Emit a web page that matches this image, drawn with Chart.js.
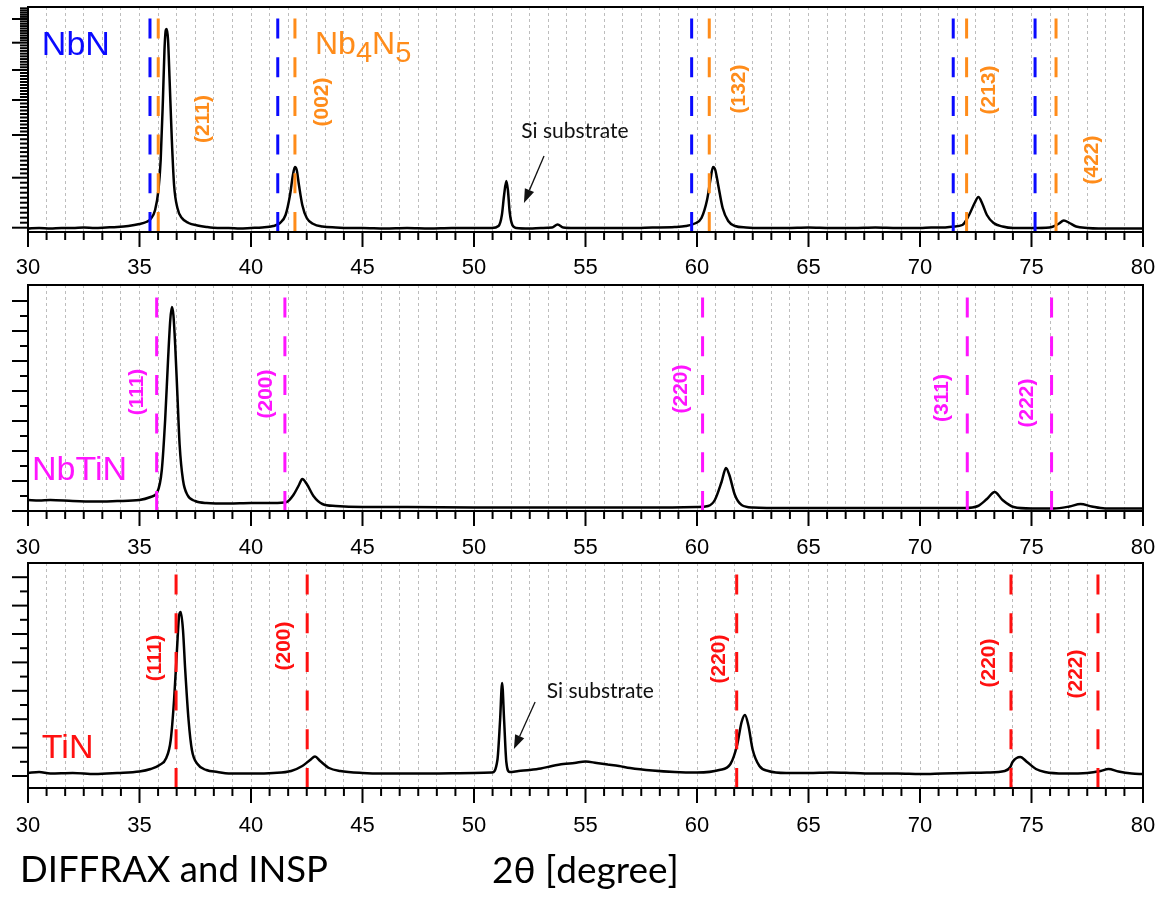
<!DOCTYPE html>
<html>
<head>
<meta charset="utf-8">
<script src="https://cdn.jsdelivr.net/npm/chart.js@4.4.1/dist/chart.umd.min.js"></script>
<style>
html,body{margin:0;padding:0;background:#fff;}
body{width:1158px;height:901px;position:relative;overflow:hidden;}
.pc{position:absolute;left:0;width:1158px;height:300px;}
.pc canvas{display:block;}
#foot{position:absolute;left:20px;top:850px;font-family:Lato,'Open Sans',sans-serif;font-size:36.5px;line-height:36.5px;color:#000;white-space:nowrap;}
#xtitle{position:absolute;left:492px;top:850px;font-family:Lato,'Open Sans',sans-serif;font-size:37px;line-height:37px;color:#000;white-space:nowrap;}
</style>
</head>
<body>
<div class="pc" style="top:0px"><canvas id="c1" width="1158" height="300"></canvas></div>
<div class="pc" style="top:278px"><canvas id="c2" width="1158" height="300"></canvas></div>
<div class="pc" style="top:556px"><canvas id="c3" width="1158" height="300"></canvas></div>
<div id="foot">DIFFRAX and INSP</div>
<div id="xtitle">2θ [degree]</div>
<script>
// ---------- axis tick values ----------
const xMajorTicks = [30, 35, 40, 45, 50, 55, 60, 65, 70, 75, 80];
const xMinorPerMajor = 6; // minor tick intervals per 5 degrees

// ---------- NbN panel ----------
const nbnX = [30,30.5,31,31.5,32,32.5,33,33.5,34,34.5,35,35.3,35.5,35.7,35.85,35.95,36.05,36.12,36.18,36.22,36.28,36.35,36.45,36.55,36.7,36.9,37.2,37.6,38,38.5,39,39.5,40,40.5,41,41.3,41.55,41.75,41.88,41.97,42.05,42.15,42.3,42.5,42.8,43.2,43.8,44.5,45,46,47,48,49,50,50.8,51.1,51.25,51.35,51.45,51.52,51.6,51.72,51.9,52.5,53,53.5,53.75,54,54.5,55,56,57,58,59,59.5,59.9,60.2,60.45,60.6,60.72,60.82,60.95,61.15,61.4,61.7,62.2,63,64,65,66,67,68,69,70,70.5,71,71.5,71.9,72.2,72.45,72.62,72.8,73.0,73.3,73.7,74.2,75,75.8,76.2,76.45,76.7,77.0,77.5,78,79,80];
const nbnY = [3.5,4,3.5,4,4,4.5,4,4.5,5,6,8,10,13,22,42,72,132,182,202,203,192,152,92,47,24,14,9,6.5,5,4,4,3.5,4,4.5,6,9,17,37,57,65,62,47,27,14,8,5.5,4.5,4,4,3.5,4,3.5,4,4,4,6,17,37,51,42,20,7,4,3.5,4,4.5,7.5,4.5,4,4,4,4,4.5,5,6,8.5,14,32,52,65,62,47,24,11,6,4.5,4,4,4.5,4,4,4.5,4,4,4.5,4.5,5.5,7,17,29,35,28,17,9,5.5,4,4,4.5,8,11.5,9,5.5,4,3.5,3.5,3.5];
const nbnLines = [35.47, 41.2, 59.76, 71.49, 75.16];
const nb4n5Lines = [35.84, 41.97, 60.55, 72.09, 76.1];
const nb4n5Labels = ['(211)', '(002)', '(132)', '(213)', '(422)'];
const nb4n5LabelX = [37.85, 43.2, 61.9, 73.1, 77.7];
const nb4n5LabelY = [113, 130, 143, 142, 72];
const nbnYMajor = [4.3, 54.3, 97, 132, 162, 189.3, 213];

// ---------- NbTiN panel ----------
const nbtinX = [30,30.5,31,32,33,34,35,35.5,35.8,36.0,36.15,36.28,36.38,36.45,36.52,36.6,36.7,36.8,36.95,37.15,37.5,38,39,40,41,41.6,41.9,42.15,42.3,42.5,42.8,43.2,43.8,45,47,50,55,58,60,60.5,60.8,61.1,61.3,61.45,61.7,62.0,62.5,64,67,70,72,72.6,73.0,73.35,73.7,74.2,75,76,76.7,77.2,77.7,78.3,80];
const nbtinY = [11,10.5,11,10,9.5,10,11,14,19,41,91,151,191,204,196,166,116,66,31,16,10,8,7.5,8,8,9,16,26,32,27,15,7,5,4,4,3.5,3.5,3.5,4,5,11,29,43,36,16,6,3.5,3,3,3,3,5,12,19,11,4,2.5,2.5,4.5,7,4.5,2.5,2.5];
const nbtinLines = [35.77, 41.52, 60.25, 72.12, 75.9];
const nbtinLabels = ['(111)', '(200)', '(220)', '(311)', '(222)'];
const nbtinLabelX = [34.9, 40.7, 59.3, 71.0, 74.8];
const nbtinLabelY = [119, 117, 122, 113, 108];
const nbtinYMajor = [0, 30, 60, 90, 120, 150, 180, 210];
const nbtinYMinor = [15, 45, 75, 105, 135, 165, 195];

// ---------- TiN panel ----------
const tinX = [30,30.5,31,32,33,34,35,35.5,35.9,36.2,36.4,36.55,36.68,36.78,36.85,36.95,37.05,37.2,37.35,37.6,38,38.5,39,40,41,41.8,42.3,42.65,42.87,43.1,43.5,44,45,46,48,50,50.8,51.05,51.17,51.26,51.35,51.45,51.6,52,52.5,53,53.5,54,54.5,55,55.5,56,56.5,57,58,59,60,61,61.5,61.8,62.0,62.15,62.3,62.5,62.8,63.2,64,65,66,67,68,69,70,71,72,73,73.8,74.05,74.15,74.5,74.8,75.2,75.6,76.5,77.5,78.1,78.45,78.9,79.5,80];
const tinY = [15,16,14.5,15,14,15,16.5,19,23,30,48,88,138,173,176,158,118,68,38,24,18,16,14.5,14.5,15,17,22,28,31.5,27,20,17,15,14.5,14.5,15,15.5,28,68,105,68,26,16,17,18,19.5,22,24,25,26.5,25,23.5,22,20,17.5,16,15.5,18,24,43,66,73,63,38,22,17,15,15,15.5,15,14.5,14.5,14,14.5,15,15.5,17,21,26,31,26,19,16,14.5,15,17,19,16.5,14.5,14];
const tinLines = [36.64, 42.52, 61.78, 74.08, 77.98];
const tinLabels = ['(111)', '(200)', '(220)', '(220)', '(222)'];
const tinLabelX = [35.7, 41.5, 61.0, 73.1, 77.0];
const tinLabelY = [130, 142, 129, 125, 114];
const tinYMajor = [12, 40.4, 68.8, 97.2, 125.6, 154, 182.4, 210.8];
const tinYMinor = [26.2, 54.6, 83, 111.4, 139.8, 168.2, 196.6];

// ---------- helpers ----------
const REF_TOP = 214;
const COL_BLUE = '#0a0aff', COL_ORANGE = '#ff8c1a', COL_MAG = '#ff14ff', COL_RED = '#ff1010';
const FONT = "'Liberation Sans', Arial, sans-serif";

const xTicks = [];
for (let i = 0; i < xMajorTicks.length - 1; i++) {
  for (let k = 0; k < xMinorPerMajor; k++) {
    xTicks.push(+(xMajorTicks[i] + k * (xMajorTicks[i + 1] - xMajorTicks[i]) / xMinorPerMajor).toFixed(6));
  }
}
xTicks.push(xMajorTicks[xMajorTicks.length - 1]);
const isMajorX = v => xMajorTicks.some(m => Math.abs(m - v) < 1e-6);

function refDataset(xs, color) {
  const data = [];
  xs.forEach(x => { data.push({x, y: 0}); data.push({x, y: REF_TOP}); data.push({x, y: null}); });
  return {data, borderColor: color, borderWidth: 3, borderDash: [20, 18.7], pointRadius: 0, fill: false, spanGaps: false, tension: 0, borderCapStyle: 'butt'};
}

function line(ctx, x1, y1, x2, y2) { ctx.beginPath(); ctx.moveTo(x1, y1); ctx.lineTo(x2, y2); ctx.stroke(); }

function rotText(ctx, txt, x, y, color) {
  ctx.save();
  ctx.translate(x, y);
  ctx.rotate(-Math.PI / 2);
  ctx.fillStyle = color;
  ctx.font = "bold 21px " + FONT;
  ctx.textAlign = 'center';
  ctx.textBaseline = 'middle';
  ctx.fillText(txt, 0, 0);
  ctx.restore();
}

function arrow(ctx, x1, y1, x2, y2) {
  ctx.save();
  ctx.strokeStyle = '#111'; ctx.fillStyle = '#111'; ctx.lineWidth = 1.3;
  const ang = Math.atan2(y2 - y1, x2 - x1);
  const hl = 14, hw = 5;
  const bx = x2 - hl * Math.cos(ang), by = y2 - hl * Math.sin(ang);
  line(ctx, x1, y1, bx, by);
  ctx.beginPath();
  ctx.moveTo(x2, y2);
  ctx.lineTo(bx + hw * Math.sin(ang), by - hw * Math.cos(ang));
  ctx.lineTo(bx - hw * Math.sin(ang), by + hw * Math.cos(ang));
  ctx.closePath(); ctx.fill();
  ctx.restore();
}

function decor(cfg) {
  return {
    id: 'decor',
    afterDraw(chart) {
      const {ctx, chartArea: a, scales: {x, y}} = chart;
      ctx.save();
      ctx.strokeStyle = '#000';
      ctx.lineWidth = 2;
      ctx.strokeRect(a.left, a.top, a.right - a.left, a.bottom - a.top);
      // x tick marks + labels
      ctx.fillStyle = '#000';
      ctx.font = "22px " + FONT;
      ctx.textAlign = 'center';
      ctx.textBaseline = 'middle';
      x.ticks.forEach(t => {
        const px = x.getPixelForValue(t.value);
        const major = isMajorX(t.value);
        line(ctx, px, a.bottom, px, a.bottom + (major ? 15 : 8));
        if (major) ctx.fillText(String(Math.round(t.value)), px, a.bottom + cfg.labelOffset);
      });
      // y tick marks
      cfg.yMajor.forEach(v => { const py = y.getPixelForValue(v); line(ctx, a.left - 16, py, a.left, py); });
      cfg.yMinor.forEach(v => { const py = y.getPixelForValue(v); line(ctx, a.left - 8, py, a.left, py); });
      // rotated Miller-index labels
      cfg.labels.forEach((txt, i) => rotText(ctx, txt, x.getPixelForValue(cfg.labelX[i]), y.getPixelForValue(cfg.labelY[i]), cfg.labelColor));
      if (cfg.extra) cfg.extra(ctx, x, y);
      ctx.restore();
    }
  };
}

function sqrtMinor(majors, yMax) {
  const out = [];
  for (let i = 0; i < majors.length - 1; i++) {
    const a = majors[i], b = majors[i + 1];
    for (let k = 1; k < 10; k++) out.push(a + (b - a) * k / 10);
  }
  const last = majors[majors.length - 1];
  const step = (last - majors[majors.length - 2]) / 10 * 0.9;
  for (let v = last + step; v < yMax; v += step) out.push(v);
  return out;
}

function makePanel(id, cfg) {
  const datasets = cfg.refs.map(r => refDataset(r.xs, r.color));
  datasets.push({
    data: cfg.xs.map((x, i) => ({x, y: cfg.ys[i]})),
    borderColor: '#000', borderWidth: 2.5, pointRadius: 0, fill: false,
    cubicInterpolationMode: 'monotone'
  });
  new Chart(document.getElementById(id), {
    type: 'line',
    data: {datasets},
    options: {
      responsive: false, animation: false, events: [],
      layout: {padding: {left: 28, right: 15, top: cfg.padTop, bottom: cfg.padBottom}},
      plugins: {legend: {display: false}, tooltip: {enabled: false}},
      scales: {
        x: {
          type: 'linear', min: 30, max: 80,
          afterBuildTicks: s => { s.ticks = xTicks.map(v => ({value: v})); },
          afterFit: s => { s.height = 50; s.paddingLeft = 0; s.paddingRight = 0; },
          grid: {display: true, drawOnChartArea: true, drawTicks: false, color: '#bdbdbd', lineWidth: 1},
          border: {display: true, color: '#000', width: 2, dash: [3, 3]},
          ticks: {display: false, autoSkip: false, maxRotation: 0, minRotation: 0}
        },
        y: {type: 'linear', display: false, min: 0, max: cfg.yMax}
      }
    },
    plugins: [decor(cfg)]
  });
}

// ---------- Panel 1 : NbN / Nb4N5 ----------
makePanel('c1', {
  xs: nbnX, ys: nbnY, yMax: 225, padTop: 7, padBottom: 18, labelOffset: 36,
  refs: [{xs: nbnLines, color: COL_BLUE}, {xs: nb4n5Lines, color: COL_ORANGE}],
  yMajor: nbnYMajor, yMinor: sqrtMinor(nbnYMajor, 225),
  labels: nb4n5Labels, labelX: nb4n5LabelX, labelY: nb4n5LabelY, labelColor: COL_ORANGE,
  extra(ctx, x, y) {
    ctx.textAlign = 'left'; ctx.textBaseline = 'alphabetic';
    ctx.fillStyle = COL_BLUE; ctx.font = "34px " + FONT;
    ctx.fillText('NbN', x.getPixelForValue(30.62), y.getPixelForValue(177));
    ctx.fillStyle = COL_ORANGE;
    let px = x.getPixelForValue(42.87); const by = y.getPixelForValue(178);
    const parts = [['Nb', 0, 32], ['4', 8, 29], ['N', 0, 32], ['5', 8, 29]];
    parts.forEach(([t, dy, sz]) => { ctx.font = sz + "px " + FONT; ctx.fillText(t, px, by + dy); px += ctx.measureText(t).width; });
    ctx.fillStyle = '#111'; ctx.font = "21px Lato, 'Open Sans', sans-serif";
    ctx.fillText('Si substrate', x.getPixelForValue(52.12), y.getPixelForValue(94));
    arrow(ctx, x.getPixelForValue(53.14), y.getPixelForValue(76), x.getPixelForValue(52.24), y.getPixelForValue(29));
  }
});

// ---------- Panel 2 : NbTiN ----------
makePanel('c2', {
  xs: nbtinX, ys: nbtinY, yMax: 226, padTop: 7, padBottom: 17, labelOffset: 37,
  refs: [{xs: nbtinLines, color: COL_MAG}],
  yMajor: nbtinYMajor, yMinor: nbtinYMinor,
  labels: nbtinLabels, labelX: nbtinLabelX, labelY: nbtinLabelY, labelColor: COL_MAG,
  extra(ctx, x, y) {
    ctx.textAlign = 'left'; ctx.textBaseline = 'alphabetic';
    ctx.fillStyle = COL_MAG; ctx.font = "34px " + FONT;
    ctx.fillText('NbTiN', x.getPixelForValue(30.18), y.getPixelForValue(31));
  }
});

// ---------- Panel 3 : TiN ----------
makePanel('c3', {
  xs: tinX, ys: tinY, yMax: 225, padTop: 7, padBottom: 18, labelOffset: 38,
  refs: [{xs: tinLines, color: COL_RED}],
  yMajor: tinYMajor, yMinor: tinYMinor,
  labels: tinLabels, labelX: tinLabelX, labelY: tinLabelY, labelColor: COL_RED,
  extra(ctx, x, y) {
    ctx.textAlign = 'left'; ctx.textBaseline = 'alphabetic';
    ctx.fillStyle = COL_RED; ctx.font = "34px " + FONT;
    ctx.fillText('TiN', x.getPixelForValue(30.62), y.getPixelForValue(30));
    ctx.fillStyle = '#111'; ctx.font = "21px Lato, 'Open Sans', sans-serif";
    ctx.fillText('Si substrate', x.getPixelForValue(53.26), y.getPixelForValue(90));
    arrow(ctx, x.getPixelForValue(52.74), y.getPixelForValue(86), x.getPixelForValue(51.79), y.getPixelForValue(39));
  }
});
</script>
</body>
</html>
